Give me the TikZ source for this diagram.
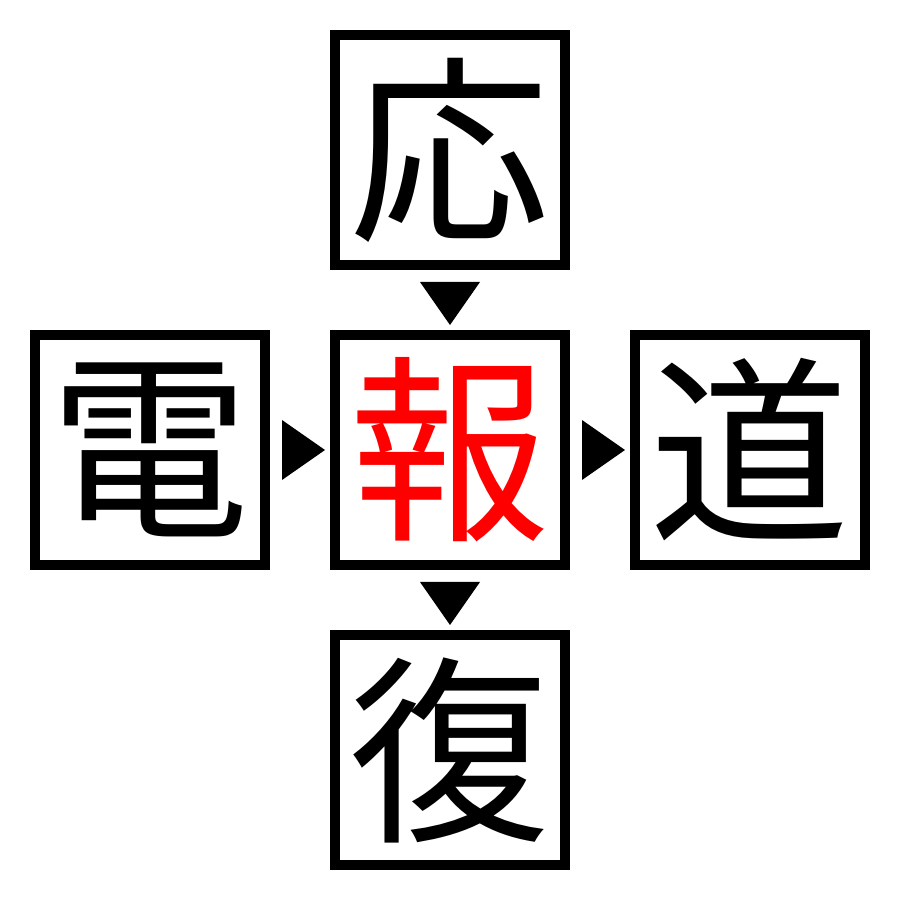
\documentclass[tikz,border=0pt]{standalone}
\usepackage{fontspec}
\newfontfamily\cjk{Noto Sans CJK JP}
\usepackage{tikz}
\usetikzlibrary{positioning, calc}
\usepackage{xcolor}

\begin{document}
\begin{tikzpicture}[node distance=0.7cm,
    kanji/.style = {rectangle, minimum size=2.3cm, inner sep=0pt, outer sep=0pt, text centered, draw=black, line width=1mm, font=\cjk\fontsize{57}{60}\selectfont},
    pointer/.style = {fill=black}]
        \useasboundingbox (0,0) rectangle (9,9);
        % Nodes
        \node (center) [kanji, text=red] at (4.5,4.5) {報};
        \node (above) [kanji, above=of center] {応};
        \node (left) [kanji, left=of center] {電};
        \node (right) [kanji, right=of center] {道};
        \node (below) [kanji, below=of center] {復};

        % Pointers
        \fill [pointer] ($(above.south)+(-0.3,-0.17)$) -- ($(above.south)+(0.3,-0.17)$) -- ($(center.north)+(0,0.1)$) -- cycle;
        \fill [pointer] ($(left.east)+(0.17,0.3)$) -- ($(left.east)+(0.17,-0.3)$) -- ($(center.west)+(-0.1,0)$) -- cycle;
        \fill [pointer] ($(center.east)+(0.17,0.3)$) -- ($(center.east)+(0.17,-0.3)$) -- ($(right.west)+(-0.1,0)$) -- cycle;
        \fill [pointer] ($(center.south)+(-0.3,-0.17)$) -- ($(center.south)+(0.3,-0.17)$) -- ($(below.north)+(0,0.1)$) -- cycle;
    \end{tikzpicture}
\end{document}
